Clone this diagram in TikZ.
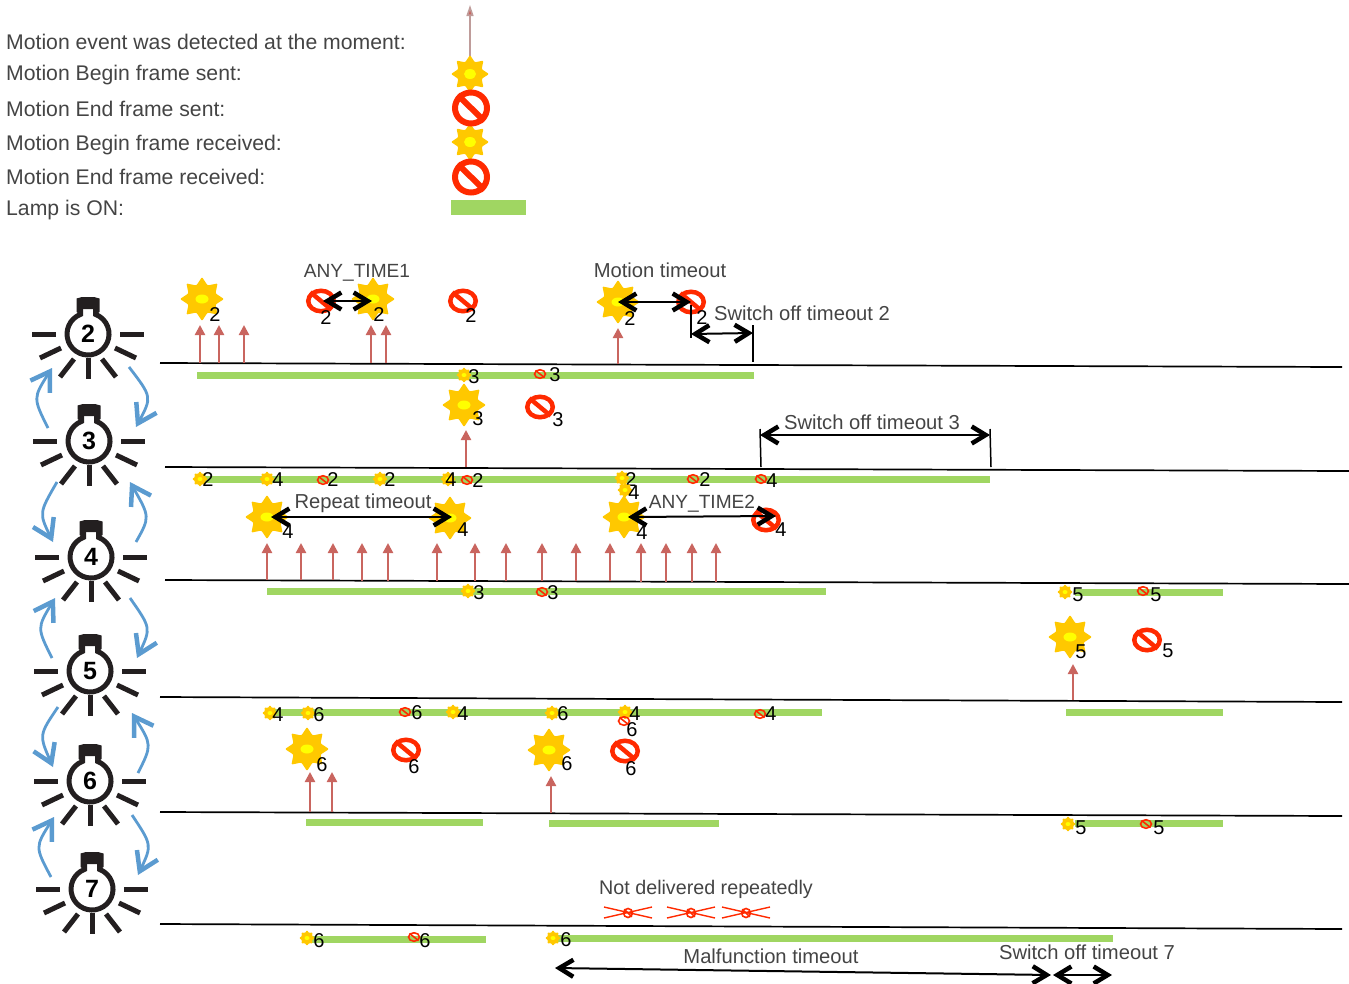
\documentclass[tikz,border=0pt]{standalone}
\usepackage{fontspec}
\setmainfont{Liberation Sans}
\usetikzlibrary{arrows.meta}
\usetikzlibrary{shapes.geometric}
\definecolor{sunorange}{HTML}{FFC800}
\definecolor{sunspot}{HTML}{FFFF00}
\definecolor{stopred}{HTML}{FF2A00}
\definecolor{motionred}{HTML}{C9655F}
\definecolor{lampgreen}{HTML}{A0D662}
\definecolor{bluearc}{HTML}{5B9BD0}
\definecolor{lampink}{HTML}{231F20}
\definecolor{notegray}{HTML}{444444}
\tikzset{
    note/.style={anchor=base, inner sep=0pt, text=notegray, font=\fontsize{20.2}{24}\selectfont},
    legendnote/.style={note, anchor=base west, font=\fontsize{21.2}{24}\selectfont},
    tagnote/.style={note, font=\fontsize{19.1}{24}\selectfont},
    digit/.style={inner sep=0pt, text=black, font=\fontsize{20}{24}\selectfont},
    sunmark/.style={star, star points=8, star point ratio=1.5, rounded corners=1pt, fill=sunorange, inner sep=0pt, minimum size=#1},
    spotmark/.style args={#1/#2}{ellipse, fill=sunspot, inner sep=0pt, minimum width=#1, minimum height=#2},
    stopmark/.style args={#1/#2/#3}{ellipse, draw=stopred, line width=#3, inner sep=0pt, minimum width=#1, minimum height=#2},
    motion/.style={draw=motionred, line width=2.3pt, -{Triangle[length=10pt,width=10pt]}},
    lampon/.style={draw=lampgreen, line width=7pt},
    timeline/.style={draw=black, line width=1.7pt},
    tick/.style={draw=black, line width=1.5pt},
    timespan/.style={draw=black, line width=2pt,
        {Straight Barb[length=14pt,width=17pt,line width=4.5pt]}-{Straight Barb[length=14pt,width=17pt,line width=4.5pt]}},
    lamparc/.style={draw=bluearc, line width=2.8pt,
        -{Straight Barb[length=18pt,width=23pt,line width=4.5pt]}},
    lamp/.pic={
        \draw[lampink, line width=5pt] (-7.5,-26) -- (-7.5,-19.6) arc[start angle=249, end angle=-69, radius=21] -- (7.5,-26);
        \fill[lampink] (-11.5,-35.5) -- (-6,-37) -- (6,-37) -- (11.5,-35.5) -- (11.5,-22) -- (6,-18) -- (5.5,-25) -- (-5.5,-25) -- (-6,-18) -- (-11.5,-22) -- cycle;
        \foreach \a/\b/\c/\d in {-56/0/-32/0, 32/0/56/0, -48/24/-27/14, 48/24/27/14, -28/43/-14/25, 28/43/14/25, 0/24/0/45}
            \draw[lampink, line width=5pt] (\a,\b) -- (\c,\d);
        \node[inner sep=0pt, font=\fontsize{25}{25}\selectfont\bfseries] (-digit) at (0,0) {#1};
    }
}
\begin{document}
\begin{tikzpicture}[x=1pt, y=-1pt]
    \useasboundingbox (0,0) rectangle (1349,983);

    % legend
    \foreach \y/\t [count=\i] in {49/Motion event was detected at the moment:, 80/Motion Begin frame sent:, 116/Motion End frame sent:, 150/Motion Begin frame received:, 184/Motion End frame received:, 215/Lamp is ON:}
        \node[legendnote] (legend\i) at (6,\y) {\t};
    \coordinate (legendfoot) at (470,60);
    \coordinate (legendtop) at (470,5);
    \draw[draw=motionred!50!gray!70, line width=1.6pt, -{Triangle[length=11pt,width=7pt,fill=motionred]}] (legendfoot) -- (legendtop);
    \foreach \y [count=\i] in {74,142} {
        \node[sunmark=38pt] (legendsun\i) at (470,\y) {};
        \node[spotmark=12pt/10pt] at (legendsun\i) {};
    }
    \foreach \y [count=\i] in {108,177} {
        \node[stopmark=32pt/31pt/6pt] (legendstop\i) at (471,\y) {};
        \draw[stopred, line width=6pt] (legendstop\i.north west) -- (legendstop\i.south east);
    }
    \fill[lampgreen] (451,200) rectangle (526,215);

    % lamps
    \foreach \n/\x/\y in {2/88/334, 3/89/441, 4/91/557, 5/90/671, 6/90/781, 7/92/889}
        \pic (lamp\n) at (\x,\y) {lamp=\n};

    % arcs between lamps
    \foreach \xa/\ya/\xc/\yc/\xb/\yb [count=\i] in {
        48/428/33/398/52/368, 129/367/152/397/136/427,
        57/482/39/513/53/542, 136/542/150/517/130/482,
        52/658/37/628/55/598, 130/598/151/628/137/658,
        58/707/39/735/53/767, 138/773/152/745/132/713,
        51/877/35/847/54/817, 132/815/152/845/138/875} {
        \coordinate (arcfrom\i) at (\xa,\ya);
        \coordinate (arcto\i) at (\xb,\yb);
        \draw[lamparc] (arcfrom\i) .. controls (\xc,\yc) .. (arcto\i);
    }

    % time lines
    \foreach \xa/\ya/\xb/\yb [count=\i] in {160/363/1342/367, 165/467/1349/471, 165/580/1349/584, 160/697/1342/702, 160/812/1342/816, 160/924/1342/929} {
        \coordinate (linefrom\i) at (\xa,\ya);
        \coordinate (lineto\i) at (\xb,\yb);
        \draw[timeline] (linefrom\i) -- (lineto\i);
    }

    % lamp on
    \foreach \xa/\ya/\xb/\yb in {197/375/754/375, 205/479.5/990/479.5, 267/591/826/591, 1075/592/1223/592, 275/712/822/712, 1066/712/1223/712, 306/822/483/822, 549/823/719/823, 1075/823/1223/823, 310/939/486/939, 555/938/1113/938}
        \draw[lampon] (\xa,\ya) -- (\xb,\yb);

    % motion events
    \foreach \x/\yt/\yb [count=\i] in {200/325/363, 219/325/363, 244/325/363, 371/325/363, 386/325/363, 618/328/364, 466/430/467,
        267/543/580, 301/543/580, 333/543/580, 362/543/581, 388/543/581, 437/543/581, 475/543/581, 506/543/581, 542/543/581, 576/543/581, 610/543/581, 641/543/582, 666/543/582, 692/543/582, 716/543/582,
        1073/664/700, 310/772/812, 332/772/812, 551/776/813} {
        \coordinate (motfoot\i) at (\x,\yb);
        \coordinate (mottop\i) at (\x,\yt);
        \draw[motion] (motfoot\i) -- (mottop\i);
    }

    % large suns
    \foreach \x/\y/\lx/\ly/\d [count=\i] in {202/299/215/315/2, 373/299/379/315/2, 618/302/630/319/2, 464/405/478/419/3, 267/517/288/532/4, 450/518/463/530/4, 624/517/642/533/4, 1070/637/1081/652/5, 307/749/322/765/6, 549/750/567/764/6} {
        \node[sunmark=44pt] (sun\i) at (\x,\y) {};
        \node[spotmark=13pt/9pt] at (sun\i) {};
        \node[digit] (sundigit\i) at (\lx,\ly) {\d};
    }
    % large stops
    \foreach \x/\y/\lx/\ly/\d [count=\i] in {321/301/326/318/2, 463/301/471/316/2, 691/302/702/318/2, 540/407/558/420/3, 766/520/781/530/4, 1147/640/1168/651/5, 406/750/414/767/6, 625/751/631/769/6} {
        \node[stopmark=25.5pt/20.5pt/4.5pt] (stop\i) at (\x,\y) {};
        \draw[stopred, line width=4.5pt] (stop\i.north west) -- (stop\i.south east);
        \node[digit] (stopdigit\i) at (\lx,\ly) {\d};
    }
    % small suns
    \foreach \x/\y/\lx/\ly/\d [count=\i] in {464/375/474/377/3, 200/479/208/480/2, 267/479/278/480/4, 380/479/390/480/2, 448/479/451/480/4, 622/478/631/480/2, 625/490/634/493/4, 468/591/479/593/3, 1065/592/1078/595/5, 270/713/278/715/4, 308/713/319/715/6, 453/712/463/714/4, 552/713/563/714/6, 625/712/635/714/4, 1068/824/1081/828/5, 307/938/319/941/6, 553/938/566/940/6} {
        \node[sunmark=16pt] (tinysun\i) at (\x,\y) {};
        \node[spotmark=5pt/4pt] at (tinysun\i) {};
        \node[digit] (tinysundigit\i) at (\lx,\ly) {\d};
    }
    % small stops
    \foreach \x/\y/\lx/\ly/\d [count=\i] in {540/374/555/375/3, 323/480/333/480/2, 467/480/478/481/2, 693/479/705/480/2, 761/479/772/481/4, 542/592/553/593/3, 1143/591/1156/595/5, 405/712/417/713/6, 624/721/632/730/6, 760/714/771/714/4, 1146/824/1159/828/5, 414/937/425/941/6} {
        \node[stopmark=11pt/8.5pt/1.6pt] (tinystop\i) at (\x,\y) {};
        \draw[stopred, line width=1.6pt] (tinystop\i.north west) -- (tinystop\i.south east);
        \node[digit] (tinystopdigit\i) at (\lx,\ly) {\d};
    }
    % lost frames
    \foreach \x [count=\i] in {628,691,746} {
        \node[stopmark=9pt/9pt/1.6pt] (lost\i) at (\x,913) {};
        \draw[stopred, line width=1.6pt] (lost\i.north west) -- (lost\i.south east);
        \draw[stopred, line width=1.4pt] (\x-24,907) -- (\x+24,918) (\x-24,918) -- (\x+24,907);
    }

    % timeouts
    \foreach \xa/\ya/\xb/\yb [count=\i] in {691/305/691/338, 753/325/753/362, 760/429/761/467, 990/429/991/467} {
        \coordinate (tickfrom\i) at (\xa,\ya);
        \coordinate (tickto\i) at (\xb,\yb);
        \draw[tick] (tickfrom\i) -- (tickto\i);
    }
    \foreach \xa/\ya/\xb/\yb [count=\i] in {323/301/372/301, 618/302/691/302, 691/334/753/333, 760/435/990/435, 271/517/452/517, 628/517/776/516, 555/968/1051/975, 1053/975/1112/975} {
        \coordinate (spanfrom\i) at (\xa,\ya);
        \coordinate (spanto\i) at (\xb,\yb);
        \draw[timespan] (spanfrom\i) -- (spanto\i);
    }
    \node[tagnote] (anytimeone) at (357,277) {ANY\_TIME1};
    \node[note] (motiontimeout) at (660,277) {Motion timeout};
    \node[note] (switchtwo) at (802,320) {Switch off timeout 2};
    \node[note] (switchthree) at (872,429) {Switch off timeout 3};
    \node[note] (repeattimeout) at (363,508) {Repeat timeout};
    \node[tagnote] (anytimetwo) at (702,508) {ANY\_TIME2};
    \node[note, font=\fontsize{19.7}{24}\selectfont] (notdelivered) at (706,894) {Not delivered repeatedly};
    \node[note] (malfunction) at (771,963) {Malfunction timeout};
    \node[note] (switchseven) at (1087,959) {Switch off timeout 7};
\end{tikzpicture}
\end{document}
